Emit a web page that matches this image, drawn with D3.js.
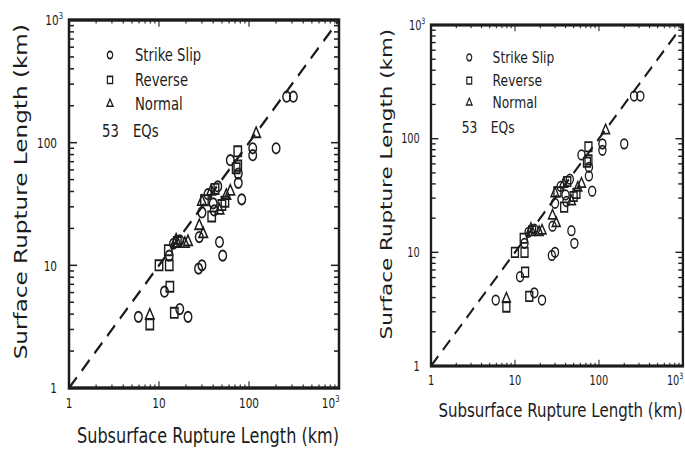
<!DOCTYPE html>
<html>
<head>
<meta charset="utf-8">
<script src="https://cdn.jsdelivr.net/npm/d3@7"></script>
<style>
  html, body { margin: 0; padding: 0; background: #fff; }
  svg { display: block; }
</style>
</head>
<body>
<svg id="chart" width="685" height="451"></svg>
<script>
// Surface vs subsurface rupture length (km) for 53 earthquakes, by faulting type.
const strikeSlipSub  = [5.9, 11.5, 17, 21, 27.5, 30, 28, 47, 51, 13, 14.5, 30, 40, 41, 35, 45, 62, 76, 76, 83, 110, 110, 200, 262, 311, 17];
const strikeSlipSurf = [3.8, 6.1, 4.4, 3.8, 9.4, 10, 17, 15.5, 12, 12, 15, 27, 32, 28, 38, 44, 72, 56, 47, 34.5, 90, 79, 90, 237, 237, 16];

const reverseSub  = [7.9, 14.8, 13.2, 10, 13, 12.7, 16, 38.5, 50, 54, 32, 42, 75, 75, 72];
const reverseSurf = [3.3, 4.1, 6.7, 10, 10, 13.3, 15.5, 25, 31, 33, 34, 42, 85, 65, 62];

const normalSub  = [7.9, 19.4, 21, 15.5, 28, 31, 30, 38, 47, 56, 62, 120];
const normalSurf = [3.9, 15, 15.5, 16, 21, 18, 33, 40, 28, 37, 40, 118];

const tickValues = [1, 10, 100, 1000];
const tickLabels = ["1", "10", "100", "10^3"];
const legendLabels = ["Strike Slip", "Reverse", "Normal"];
const countLabels = ["53", "EQs"];
const xTitle = "Subsurface Rupture Length (km)";
const yTitle = "Surface Rupture Length (km)";

const INK = "#1c1c1c";
const FONT = "DejaVu Sans, sans-serif";
const S = 270; // plot side in panel units

const series = [
  { sub: strikeSlipSub, surf: strikeSlipSurf, type: d3.symbolCircle,   size: 45 },
  { sub: reverseSub,    surf: reverseSurf,    type: d3.symbolSquare,   size: 55 },
  { sub: normalSub,     surf: normalSurf,     type: d3.symbolTriangle, size: 32 }
];

// Two copies of the same plot, each placed with its own scaling
const panels = [
  { tx: 69,  ty: 20, sx: 1.0,   sy: 1.363 },
  { tx: 431, ty: 25, sx: 0.933, sy: 1.263 }
];

const svg = d3.select("#chart");

function addLabel(sel, label, fontSize) {
  const parts = label.split("^");
  sel.append("tspan").text(parts[0]);
  if (parts.length > 1) {
    sel.append("tspan")
      .attr("font-size", fontSize * 0.65)
      .attr("dy", -fontSize * 0.45)
      .text(parts[1]);
  }
}

function drawPanel(g) {
  const x = d3.scaleLog().domain([1, 1000]).range([0, S]);
  const y = d3.scaleLog().domain([1, 1000]).range([S, 0]);

  // 1:1 reference line
  g.append("line")
    .attr("x1", x(1)).attr("y1", y(1))
    .attr("x2", x(1000)).attr("y2", y(1000))
    .attr("stroke", INK).attr("stroke-width", 2)
    .attr("stroke-dasharray", "11,7");

  // minor and major ticks, pointing inward on all four sides
  const ticks = [];
  [1, 10, 100].forEach(d => {
    for (let k = 1; k <= 9; k++) ticks.push({ v: d * k, major: k === 1 });
  });
  const tg = g.append("g").attr("stroke", INK).attr("stroke-width", 1.1);
  ticks.forEach(t => {
    const lx = t.major ? 5 : 2.6;  // on horizontal edges
    const ly = t.major ? 8 : 5;    // on vertical edges
    tg.append("line").attr("x1", x(t.v)).attr("x2", x(t.v)).attr("y1", S).attr("y2", S - lx);
    tg.append("line").attr("x1", x(t.v)).attr("x2", x(t.v)).attr("y1", 0).attr("y2", lx);
    tg.append("line").attr("y1", y(t.v)).attr("y2", y(t.v)).attr("x1", 0).attr("x2", ly);
    tg.append("line").attr("y1", y(t.v)).attr("y2", y(t.v)).attr("x1", S).attr("x2", S - ly);
  });

  // frame
  g.append("rect")
    .attr("x", 0).attr("y", 0).attr("width", S).attr("height", S)
    .attr("fill", "none").attr("stroke", INK).attr("stroke-width", 2.5);

  // data markers
  series.forEach(s => {
    const path = d3.symbol().type(s.type).size(s.size)();
    g.append("g").selectAll("path")
      .data(s.sub.map((v, i) => [v, s.surf[i]]))
      .join("path")
      .attr("d", path)
      .attr("transform", d => `translate(${x(d[0])},${y(d[1])})`)
      .attr("fill", "none").attr("stroke", INK).attr("stroke-width", 1.4);
  });

  // x tick labels
  const tfs = 10.5;
  tickValues.forEach((v, i) => {
    const last = v === 1000;
    const t = g.append("text")
      .attr("x", last ? x(v) + 0.5 : x(v)).attr("y", S + 15)
      .attr("text-anchor", last ? "end" : "middle")
      .attr("font-family", FONT).attr("font-size", tfs).attr("fill", INK);
    addLabel(t, tickLabels[i], tfs);
  });
  // y tick labels
  tickValues.forEach((v, i) => {
    const t = g.append("text")
      .attr("x", v === 1000 ? -6 : -12).attr("y", y(v) + 3.8)
      .attr("text-anchor", "end")
      .attr("font-family", FONT).attr("font-size", tfs).attr("fill", INK);
    addLabel(t, tickLabels[i], tfs);
  });

  // legend
  const rows = [25.7, 44, 61.5];
  const lfs = 13.2;
  series.forEach((s, i) => {
    g.append("path")
      .attr("d", d3.symbol().type(s.type).size(s.size * 0.5)())
      .attr("transform", `translate(41,${rows[i]})`)
      .attr("fill", "none").attr("stroke", INK).attr("stroke-width", 1.2);
    g.append("text")
      .attr("x", 66).attr("y", rows[i] + 4.6)
      .attr("font-family", FONT).attr("font-size", lfs).attr("fill", INK)
      .text(legendLabels[i]);
  });
  g.append("text")
    .attr("x", 33).attr("y", 81 + 4.6)
    .attr("font-family", FONT).attr("font-size", lfs).attr("fill", INK)
    .text(countLabels[0]);
  g.append("text")
    .attr("x", 64).attr("y", 81 + 4.6)
    .attr("font-family", FONT).attr("font-size", lfs).attr("fill", INK)
    .text(countLabels[1]);

  // axis titles
  g.append("text")
    .attr("x", 139).attr("y", 310)
    .attr("text-anchor", "middle")
    .attr("font-family", FONT).attr("font-size", 16).attr("fill", INK)
    .attr("textLength", 262).attr("lengthAdjust", "spacingAndGlyphs")
    .text(xTitle);
  g.append("text")
    .attr("transform", `translate(-42,126) rotate(-90)`)
    .attr("text-anchor", "middle")
    .attr("font-family", FONT).attr("font-size", 17).attr("fill", INK)
    .attr("textLength", 246).attr("lengthAdjust", "spacingAndGlyphs")
    .text(yTitle);
}

panels.forEach(p => {
  const g = svg.append("g")
    .attr("transform", `translate(${p.tx},${p.ty}) scale(${p.sx},${p.sy})`);
  drawPanel(g);
});
</script>
</body>
</html>
